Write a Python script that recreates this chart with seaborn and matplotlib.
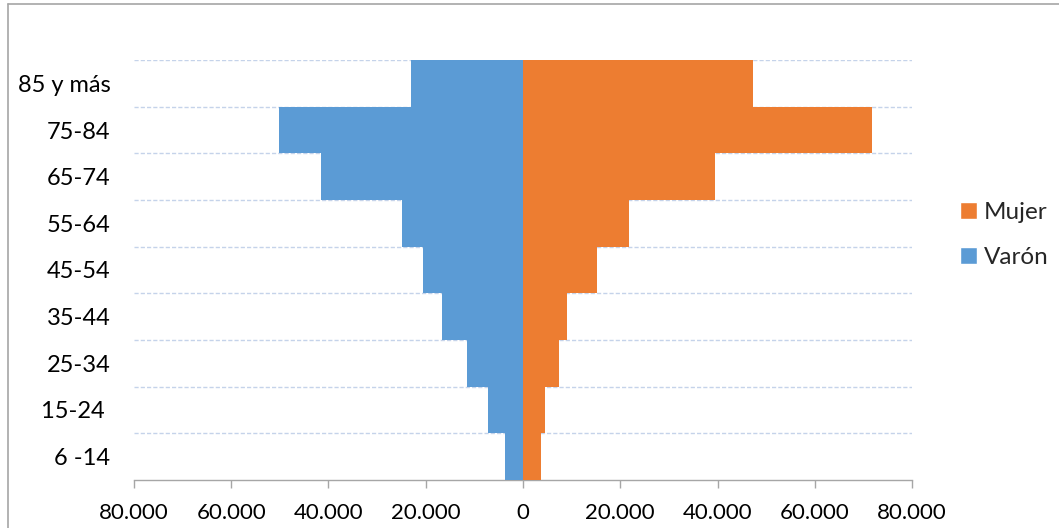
import pandas as pd
import matplotlib
matplotlib.use("Agg")
import matplotlib.pyplot as plt
import seaborn as sns
from matplotlib.patches import Patch
from matplotlib.lines import Line2D
from matplotlib.ticker import FuncFormatter, MultipleLocator

# Data
grupos = ["85 y más", "75-84", "65-74", "55-64", "45-54", "35-44", "25-34", "15-24 ", "6 -14"]
varon = [23000, 50200, 41600, 24900, 20600, 16700, 11500, 7100, 3800]
mujer = [47300, 71800, 39500, 21800, 15200, 9000, 7500, 4600, 3800]

color_mujer = "#ED7D31"
color_varon = "#5B9BD5"

df = pd.DataFrame({
    "grupo": grupos * 2,
    "valor": [-v for v in varon] + mujer,
    "sexo": ["Varón"] * len(grupos) + ["Mujer"] * len(grupos),
})

sns.set_style("white")
plt.rcParams["font.family"] = ["Lato", "DejaVu Sans"]

fig = plt.figure(figsize=(10.59, 5.28), dpi=100)
ax = fig.add_axes([134 / 1059, 1 - 480 / 528, (912 - 134) / 1059, (480 - 60) / 528])

sns.barplot(data=df, x="valor", y="grupo", hue="sexo", order=grupos,
            hue_order=["Mujer", "Varón"], palette={"Mujer": color_mujer, "Varón": color_varon},
            dodge=False, width=1.0, orient="h", ax=ax, legend=False, zorder=3,
            saturation=1, edgecolor="none", linewidth=0)

# dashed gridlines between categories
for i in range(len(grupos)):
    ax.axhline(i - 0.5, color="#C5D3EA", lw=1.0, ls=(0, (3, 1.5)), zorder=1)

ax.set_xlim(-80000, 80000)
ax.set_ylim(len(grupos) - 0.5, -0.5)
ax.xaxis.set_major_locator(MultipleLocator(20000))
ax.xaxis.set_major_formatter(FuncFormatter(lambda x, p: f"{abs(int(round(x))):,}".replace(",", ".")))

for s in ["top", "right", "left"]:
    ax.spines[s].set_visible(False)
ax.spines["bottom"].set_color("#A6A6A6")
ax.spines["bottom"].set_linewidth(1.0)
ax.tick_params(axis="x", bottom=True, direction="out", length=5.8, width=1.0,
               color="#A6A6A6", pad=11, labelsize=16, labelcolor="black")
ax.tick_params(axis="y", left=False, length=0, pad=17, labelsize=17, labelcolor="black")
ax.set_xlabel("")
ax.set_ylabel("")

handles = [Patch(facecolor=color_mujer, label="Mujer"), Patch(facecolor=color_varon, label="Varón")]
fig.legend(handles=handles, loc="center left", bbox_to_anchor=(950 / 1059, 1 - 235 / 528),
           frameon=False, fontsize=17.5, handlelength=0.7, handleheight=0.7,
           handletextpad=0.3, labelspacing=0.95, borderaxespad=0)

# chart frame (left and top edges visible)
fig.add_artist(Line2D([8 / 1059, 8 / 1059], [0, 1 - 4 / 528], color="#A6A6A6", lw=1.2))
fig.add_artist(Line2D([8 / 1059, 1], [1 - 4 / 528, 1 - 4 / 528], color="#A6A6A6", lw=1.2))

fig.savefig("out.png", dpi=100)
